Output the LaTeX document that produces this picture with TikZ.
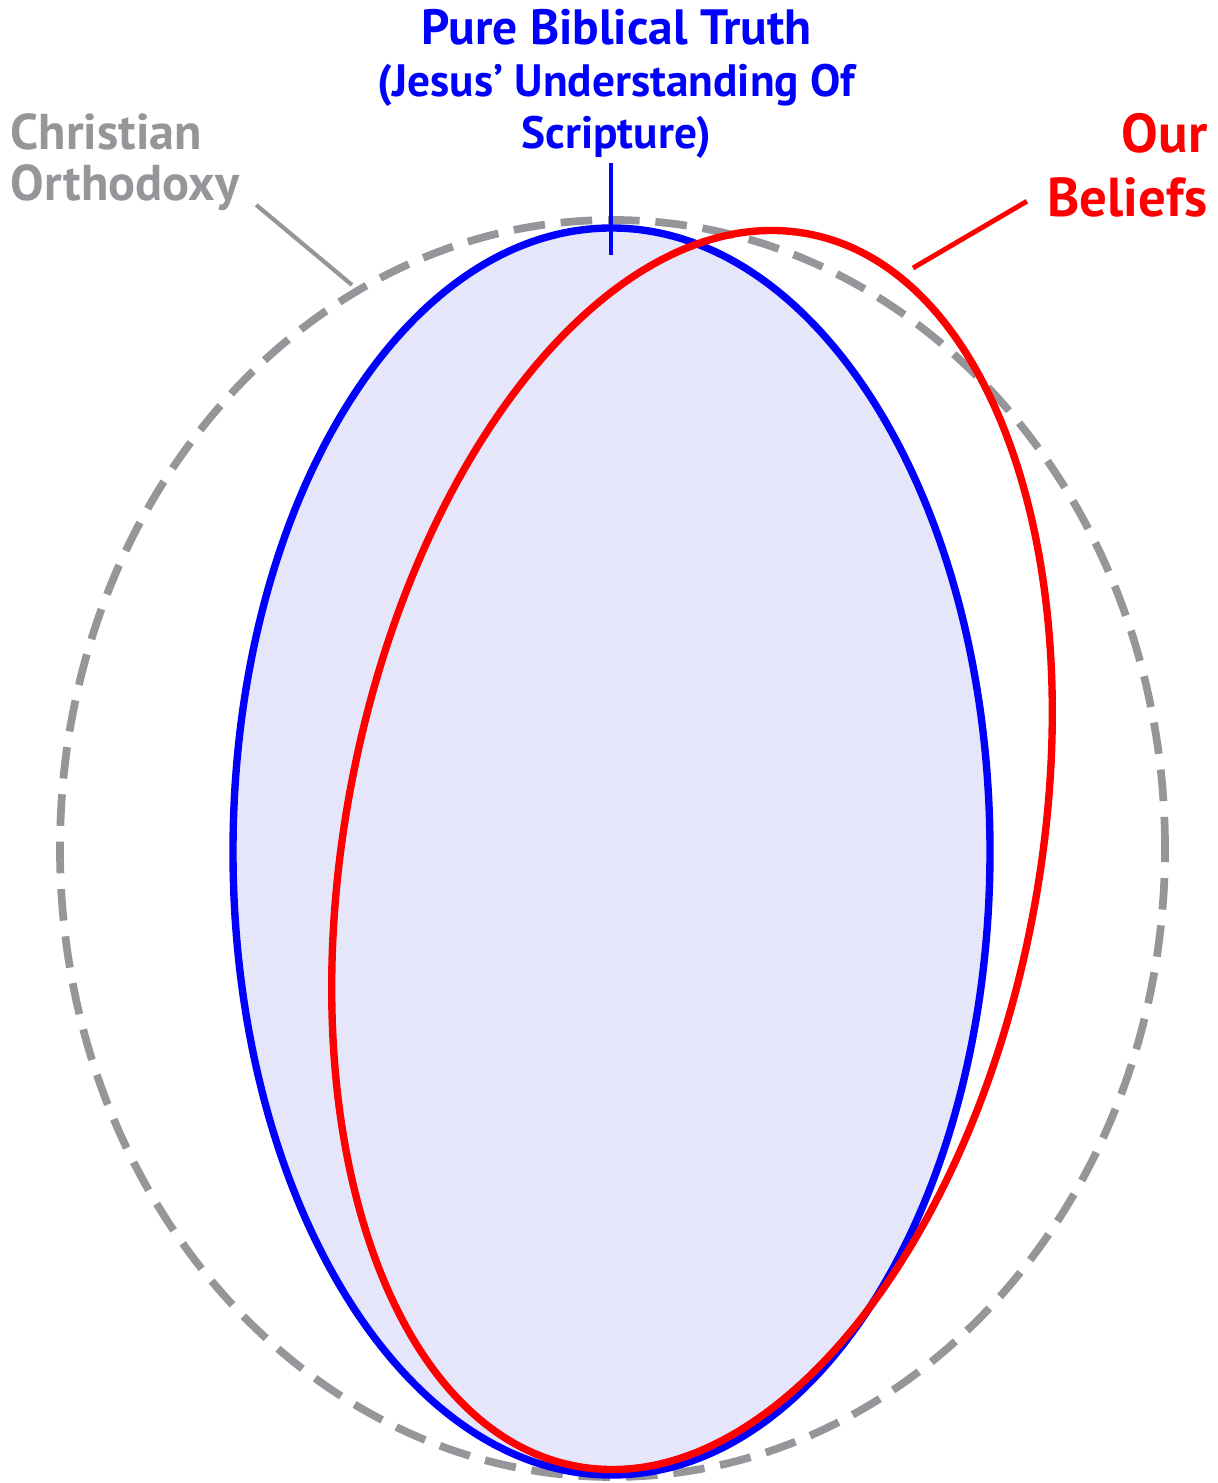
\documentclass[tikz,border=0pt]{standalone}
\usepackage{fontspec}
\setmainfont{PT Sans}
\usepackage{tikz}
\usepackage{xcolor}
\usetikzlibrary{positioning}
\definecolor{orthogray}{RGB}{150,150,154}
\definecolor{truthfill}{RGB}{230,230,250}
\tikzstyle{orthodoxy} = [draw=orthogray, line width=2.2pt, dash pattern=on 9pt off 4.5pt]
\tikzstyle{truth} = [draw=blue, fill=truthfill, line width=2.1pt]
\tikzstyle{beliefs} = [draw=red, line width=2.1pt]
\tikzstyle{tag} = [font=\bfseries\fontsize{12.9}{14.8}\selectfont, inner sep=0pt]
\tikzstyle{pointer} = [line width=1.4pt]

\begin{document}
\begin{tikzpicture}
    \useasboundingbox (0,0) rectangle (12.18,14.83);
    % the three sets
    \draw[orthodoxy] (6.125,6.345) ellipse (5.525 and 6.285);
    \draw[truth] (6.115,6.315) ellipse (3.785 and 6.235);
    \draw[beliefs, rotate around={-10.67:(6.92,6.33)}] (6.92,6.33) ellipse (3.47 and 6.27);

    % labels
    \node[tag, text=blue, align=center, anchor=north] (truthlbl) at (6.165,14.74)
        {{\fontsize{14.1}{16}\selectfont Pure Biblical Truth}\\(Jesus’ Understanding Of\\Scripture)};
    \node[tag, text=orthogray, align=left, anchor=north west, font=\bfseries\fontsize{14.3}{14.6}\selectfont] (orthlbl) at (0.10,13.70)
        {Christian\\Orthodoxy};
    \node[tag, text=red, align=right, anchor=north east, font=\bfseries\fontsize{15.6}{18.2}\selectfont] (ourlbl) at (12.08,13.70)
        {Our\\Beliefs};

    % pointers
    \coordinate (truthtick) at (6.11,12.28);
    \coordinate (orthend) at (3.52,11.98);
    \coordinate (ourend) at (9.13,12.15);
    \draw[pointer, blue] ([yshift=-1pt]truthlbl.south -| truthtick) -- (truthtick);
    \draw[pointer, orthogray, line width=1.2pt] ([shift={(0.16,0.07)}]orthlbl.south east) -- (orthend);
    \draw[pointer, red] ([shift={(-0.2,0.17)}]ourlbl.south west) -- (ourend);
\end{tikzpicture}
\end{document}
